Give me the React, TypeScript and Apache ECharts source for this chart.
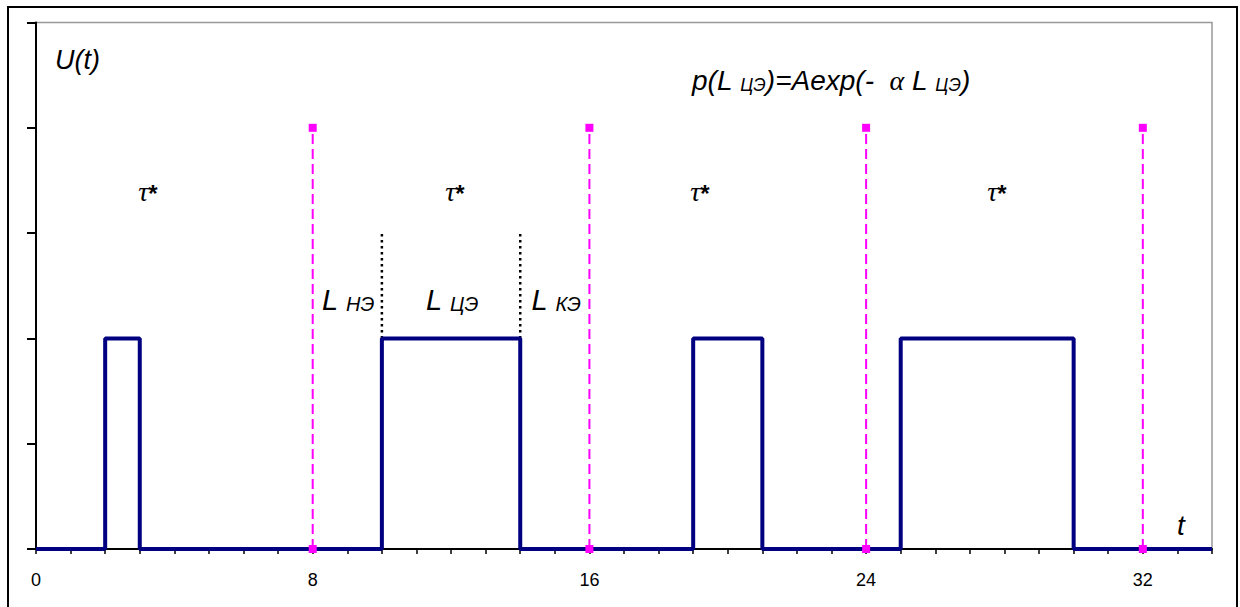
import React, { useEffect, useRef } from 'react';
import * as echarts from 'echarts';

// ---- data ----
const pulseStarts = [2, 10, 19, 25];
const pulseEnds = [3, 14, 21, 30];
const pulseLevel = 2;
const tMin = 0;
const tMax = 34;
const yMax = 5;
const markerTimes = [8, 16, 24, 32];
const markerLevel = 4;
const boundaryTimes = [10, 14];
const boundaryRange = [2, 3];
const xLabelStep = 8;

const SANS = '"Liberation Sans", Arial, sans-serif';
const SERIF = '"Liberation Serif", "Times New Roman", serif';

function buildPulsePoints(): number[][] {
  const pts: number[][] = [[tMin, 0]];
  pulseStarts.forEach((s, i) => {
    const e = pulseEnds[i];
    pts.push([s, 0], [s, pulseLevel], [e, pulseLevel], [e, 0]);
  });
  pts.push([tMax, 0]);
  return pts;
}

export default function App() {
  const ref = useRef<HTMLDivElement>(null);
  useEffect(() => {
    if (!ref.current) return;
    const chart = echarts.init(ref.current, undefined, { renderer: 'svg' });

    const markerSeries = markerTimes.map((t) => ({
      type: 'line',
      data: [[t, 0], [t, markerLevel]],
      symbol: 'rect',
      symbolSize: 8,
      showSymbol: true,
      itemStyle: { color: '#FF00FF' },
      lineStyle: { color: '#FF00FF', width: 2, type: [10, 5] },
      z: 5,
      silent: true,
    }));

    const boundarySeries = boundaryTimes.map((t) => ({
      type: 'line',
      data: [[t, boundaryRange[0]], [t, boundaryRange[1]]],
      symbol: 'none',
      lineStyle: { color: '#000', width: 2.5, type: [2.5, 3.5] },
      z: 2,
      silent: true,
    }));

    const rich = {
      m: { fontSize: 28, fontStyle: 'italic', fontFamily: SANS, lineHeight: 32, verticalAlign: 'bottom', fill: '#000' },
      s: { fontSize: 18, fontStyle: 'italic', fontFamily: SANS, lineHeight: 22, verticalAlign: 'bottom', fill: '#000' },
      g: { fontSize: 28, fontStyle: 'italic', fontFamily: SERIF, lineHeight: 32, verticalAlign: 'bottom', fill: '#000' },
      L: { fontSize: 29, fontStyle: 'italic', fontFamily: SANS, lineHeight: 32, verticalAlign: 'bottom', fill: '#000' },
      ls: { fontSize: 20, fontStyle: 'italic', fontFamily: SANS, lineHeight: 19, verticalAlign: 'bottom', fill: '#000' },
      t: { fontSize: 28, fontStyle: 'italic', fontFamily: SERIF, lineHeight: 30, verticalAlign: 'bottom', fill: '#000' },
      a: { fontSize: 24, fontWeight: 'bold', fontFamily: SANS, lineHeight: 30, verticalAlign: 'bottom', fill: '#000' },
    };

    const tauPositions = [148, 455, 700, 997];

    chart.setOption({
      animation: false,
      grid: {
        left: 36, right: 28, top: 22.5, bottom: 58,
        show: true, borderColor: '#999', borderWidth: 1.5, backgroundColor: 'transparent',
      },
      xAxis: {
        type: 'value', min: tMin, max: tMax, interval: 1,
        axisLine: { lineStyle: { color: '#000', width: 2 } },
        axisTick: { length: 5, lineStyle: { color: '#000', width: 1.5 } },
        axisLabel: {
          formatter: (v: number) => (v % xLabelStep === 0 ? String(v) : ''),
          fontSize: 18, color: '#000', fontFamily: SANS, margin: 22,
        },
        splitLine: { show: false },
      },
      yAxis: {
        type: 'value', min: 0, max: yMax, interval: 1,
        axisLine: { show: true, lineStyle: { color: '#000', width: 2 } },
        axisTick: { show: true, length: 9, lineStyle: { color: '#000', width: 2 } },
        axisLabel: { show: false },
        splitLine: { show: false },
      },
      series: [
        {
          type: 'line',
          data: buildPulsePoints(),
          symbol: 'none',
          lineStyle: { color: '#000080', width: 4 },
          z: 3,
          silent: true,
        },
        ...markerSeries,
        ...boundarySeries,
      ],
      graphic: [
        {
          type: 'rect', shape: { x: 8, y: 7, width: 1229, height: 620 },
          style: { fill: 'none', stroke: '#000', lineWidth: 2 }, silent: true,
        },
        {
          type: 'text', x: 55, y: 60,
          style: { text: 'U(t)', fontSize: 27, fontStyle: 'italic', fontFamily: SANS, fill: '#000', align: 'left', verticalAlign: 'middle' },
        },
        {
          type: 'text', x: 692, y: 78,
          style: {
            text: '{m|p(L }{s|ЦЭ}{m|)=Aexp(-  }{g|α}{m| L }{s|ЦЭ}{m|)}',
            align: 'left', verticalAlign: 'middle', rich, fill: '#000',
          },
        },
        ...tauPositions.map((x) => ({
          type: 'text', x, y: 190,
          style: { text: '{t|τ}{a|*}', align: 'center', verticalAlign: 'middle', rich, fill: '#000' },
        })),
        {
          type: 'text', x: 348, y: 298,
          style: { text: '{L|L }{ls|НЭ}', align: 'center', verticalAlign: 'middle', rich, fill: '#000' },
        },
        {
          type: 'text', x: 452, y: 298,
          style: { text: '{L|L }{ls|ЦЭ}', align: 'center', verticalAlign: 'middle', rich, fill: '#000' },
        },
        {
          type: 'text', x: 556, y: 298,
          style: { text: '{L|L }{ls|КЭ}', align: 'center', verticalAlign: 'middle', rich, fill: '#000' },
        },
        {
          type: 'text', x: 1177, y: 525,
          style: { text: 't', fontSize: 28, fontStyle: 'italic', fontFamily: SANS, fill: '#000', align: 'left', verticalAlign: 'middle' },
        },
      ],
    });
    return () => chart.dispose();
  }, []);
  return (
    <div
      ref={ref}
      style={{ position: 'absolute', left: 0, top: 0, width: 1240, height: 607, background: '#fff' }}
    />
  );
}
